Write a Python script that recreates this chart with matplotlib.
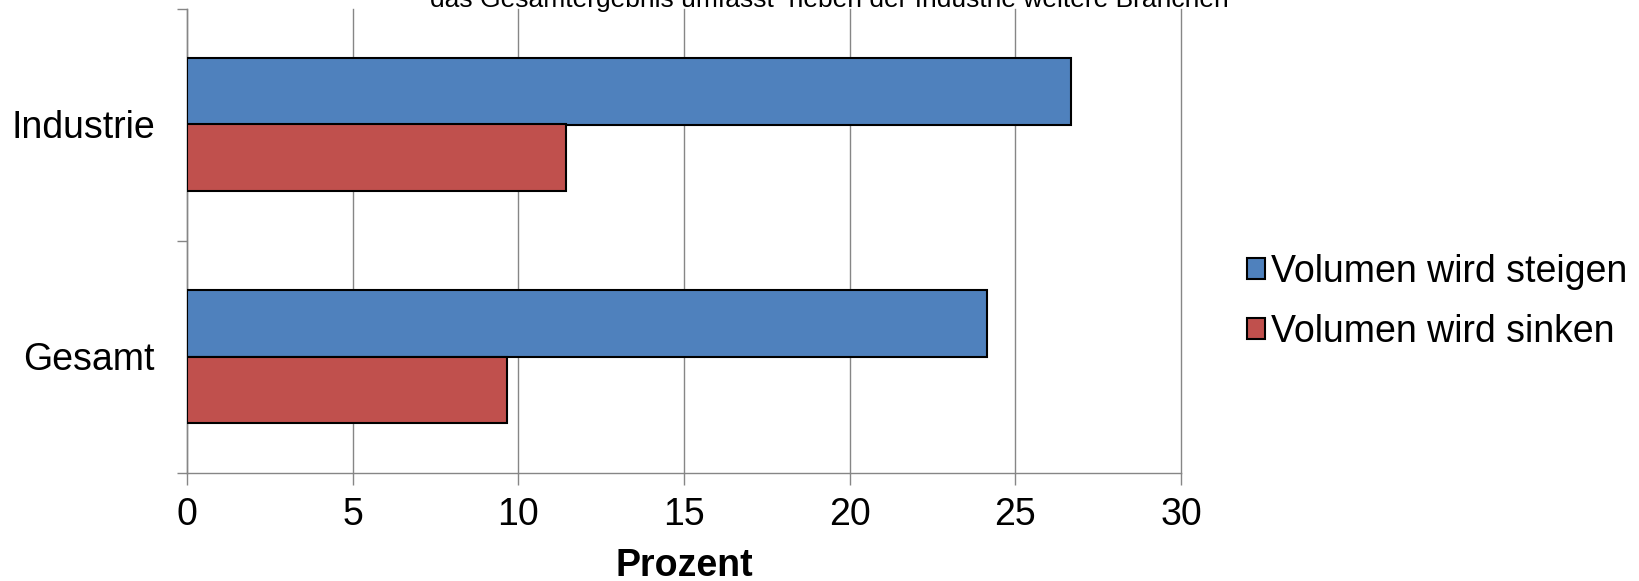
import matplotlib.pyplot as plt
import numpy as np

plt.rcParams['font.family'] = ['Liberation Sans', 'DejaVu Sans']

kategorien = ["Gesamt", "Industrie"]
steigen = [24.13, 26.68]
sinken = [9.66, 11.43]
serien = ["Volumen wird steigen", "Volumen wird sinken"]
farben = ["#4F81BD", "#C0504D"]
x_ticks = [0, 5, 10, 15, 20, 25, 30]
hinweis = "das Gesamtergebnis umfasst  neben der Industrie weitere Branchen"

fig = plt.figure(figsize=(16.39, 5.81), dpi=100)
ax = fig.add_axes([187 / 1639, 1 - 472.5 / 581, 994 / 1639, 464 / 581])

y = np.arange(len(kategorien))
h = 0.286
ax.barh(y + h / 2, steigen, height=h, color=farben[0], edgecolor="black", linewidth=1.5,
        label=serien[0], zorder=3)
ax.barh(y - h / 2, sinken, height=h, color=farben[1], edgecolor="black", linewidth=1.5,
        label=serien[1], zorder=3)

ax.set_xlim(0, 30)
ax.set_ylim(-0.5, 1.5)
ax.set_xticks(x_ticks)
ax.set_yticks(y)
ax.set_yticklabels(kategorien)
ax.set_yticks([-0.5, 0.5, 1.5], minor=True)

ax.tick_params(axis="x", labelsize=27, length=8.5, width=1, color="#868686", pad=9)
ax.tick_params(axis="y", which="major", labelsize=27, length=0, pad=23)
ax.tick_params(axis="y", which="minor", length=7, width=1, color="#868686")

ax.grid(axis="x", color="#868686", linewidth=1, zorder=0)
for line in ax.get_xgridlines():
    line.set_clip_on(False)
for s in ["top", "right"]:
    ax.spines[s].set_visible(False)
for s in ["left", "bottom"]:
    ax.spines[s].set_color("#868686")
    ax.spines[s].set_linewidth(1)

ax.set_xlabel("Prozent", fontsize=27, fontweight="bold", labelpad=11)

ax.legend(loc="center left", bbox_to_anchor=(1247 / 1639, 1 - 302 / 581),
          bbox_transform=fig.transFigure, frameon=False, fontsize=27,
          handlelength=0.48, handleheight=0.48, handletextpad=0.15,
          labelspacing=0.65, borderpad=0, borderaxespad=0)

fig.text(829 / 1639, 1 - 6.7 / 581, hinweis, ha="center", va="baseline", fontsize=19)

fig.savefig("out.png", dpi=100)
